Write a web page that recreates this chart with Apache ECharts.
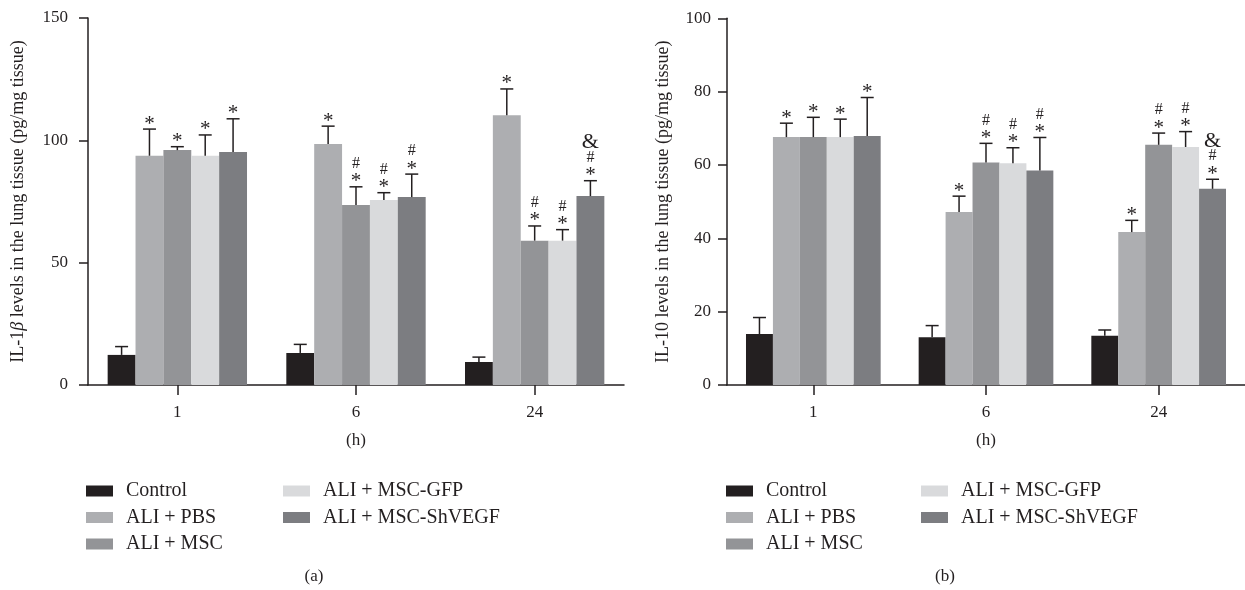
<!DOCTYPE html>
<html>
<head>
<meta charset="utf-8">
<script src="https://cdn.jsdelivr.net/npm/echarts@6/dist/echarts.min.js"></script>
<style>
html,body{margin:0;padding:0;background:#fff;}
#chart{width:1245px;height:590px;}
</style>
</head>
<body>
<div id="chart"></div>
<script>
// ---------- data ----------
const categories = ['1', '6', '24'];
const seriesNames = ['Control', 'ALI + PBS', 'ALI + MSC', 'ALI + MSC-GFP', 'ALI + MSC-ShVEGF'];
const colors = ['#231f20', '#adaeb1', '#939497', '#d9dadc', '#7c7d81'];

// IL-1beta (panel a): mean and mean+SD per group, per time point
const il1bMean = [
  [12.3, 13.1, 9.4],
  [93.7, 98.5, 110.3],
  [96.0, 73.6, 59.0],
  [93.7, 75.6, 59.0],
  [95.2, 76.8, 77.2]
];
const il1bUpper = [
  [15.7, 16.6, 11.4],
  [104.6, 105.8, 121.0],
  [97.4, 81.0, 65.0],
  [102.2, 78.6, 63.5],
  [108.8, 86.2, 83.5]
];
// significance marks, listed bottom to top
const il1bMarks = [
  ['', '', ''],
  ['*', '*', '*'],
  ['*', '*#', '*#'],
  ['*', '*#', '*#'],
  ['*', '*#', '*#&']
];

// IL-10 (panel b)
const il10Mean = [
  [13.9, 13.0, 13.4],
  [67.6, 47.2, 41.7],
  [67.6, 60.7, 65.5],
  [67.6, 60.5, 64.9],
  [67.9, 58.5, 53.5]
];
const il10Upper = [
  [18.4, 16.2, 15.0],
  [71.4, 51.5, 44.9],
  [73.0, 65.9, 68.7],
  [72.5, 64.7, 69.1],
  [78.4, 67.5, 56.1]
];
const il10Marks = [
  ['', '', ''],
  ['*', '*', '*'],
  ['*', '*#', '*#'],
  ['*', '*#', '*#'],
  ['*', '*#', '*#&']
];

const yTicksA = {min: 0, max: 150, interval: 50};
const yTicksB = {min: 0, max: 100, interval: 20};

// ---------- styling ----------
const FONT = 'Liberation Serif';
const INK = '#231f20';
const CAT_GAP = 0.22;

const chart = echarts.init(document.getElementById('chart'));

function makeErrSeries(s, means, uppers, marks, axisIdx) {
  return {
    type: 'custom',
    xAxisIndex: axisIdx,
    yAxisIndex: axisIdx,
    z: 5,
    silent: true,
    data: categories.map((c, i) => [i, means[s][i], uppers[s][i]]),
    renderItem: function (params, api) {
      const i = params.dataIndex;
      const base = api.coord([api.value(0), api.value(1)]);
      const up = api.coord([api.value(0), api.value(2)]);
      const band = api.size([1, 0])[0];
      const bw = band * (1 - CAT_GAP) / seriesNames.length;
      const x = base[0] + (s - (seriesNames.length - 1) / 2) * bw;
      const half = 6.5;
      const children = [
        {type: 'line', shape: {x1: x, y1: base[1], x2: x, y2: up[1]}, style: {stroke: INK, lineWidth: 1.5}},
        {type: 'line', shape: {x1: x - half, y1: up[1], x2: x + half, y2: up[1]}, style: {stroke: INK, lineWidth: 1.5}}
      ];
      const m = marks[s][i];
      // visual centre offsets above the cap for each stacked symbol
      const offsets = [10, 24, 39];
      for (let j = 0; j < m.length; j++) {
        const ch = m[j];
        let fs = 16, shift = 0;
        if (ch === '*') { fs = 21; shift = 5; }
        if (ch === '#') { fs = 16; shift = 1; }
        if (ch === '&') { fs = 22; shift = 1; }
        children.push({
          type: 'text',
          x: x,
          y: up[1] - offsets[j] + shift,
          style: {text: ch, fontFamily: FONT, fontSize: fs, fill: INK, align: 'center', verticalAlign: 'middle'}
        });
      }
      return {type: 'group', children: children};
    }
  };
}

function makeBarSeries(means, axisIdx) {
  return seriesNames.map((name, s) => ({
    name: name,
    type: 'bar',
    xAxisIndex: axisIdx,
    yAxisIndex: axisIdx,
    barGap: '0%',
    barCategoryGap: (CAT_GAP * 100) + '%',
    itemStyle: {color: colors[s]},
    data: means[s],
    silent: true
  }));
}

const axisLine = {show: true, lineStyle: {color: INK, width: 1.5}};
const labelStyle = {fontFamily: FONT, fontSize: 17, color: INK};

function xAxis(gridIndex) {
  return {
    type: 'category',
    gridIndex: gridIndex,
    data: categories,
    boundaryGap: true,
    axisLine: axisLine,
    axisTick: {show: true, alignWithLabel: true, length: 10, lineStyle: {color: INK, width: 1.5}},
    axisLabel: Object.assign({margin: 19}, labelStyle),
    name: '(h)',
    nameLocation: 'middle',
    nameGap: 47,
    nameTextStyle: {fontFamily: FONT, fontSize: 17, color: INK}
  };
}

function yAxis(gridIndex, ticks, nameParts, gap, labelMargin) {
  return {
    type: 'value',
    gridIndex: gridIndex,
    min: ticks.min, max: ticks.max, interval: ticks.interval,
    axisLine: axisLine,
    axisTick: {show: true, length: 9, lineStyle: {color: INK, width: 1.5}},
    axisLabel: Object.assign({margin: labelMargin}, labelStyle),
    splitLine: {show: false},
    name: nameParts,
    nameLocation: 'middle',
    nameRotate: 90,
    nameGap: gap,
    nameTextStyle: {
      fontFamily: FONT, fontSize: 18, color: INK,
      rich: {
        n: {fontFamily: FONT, fontSize: 18, color: INK},
        i: {fontFamily: FONT, fontSize: 18, color: INK, fontStyle: 'italic'}
      }
    }
  };
}

function legend(left, names) {
  return {
    orient: 'vertical',
    left: left,
    top: 481,
    padding: 0,
    icon: 'rect',
    itemWidth: 27,
    itemHeight: 11,
    itemGap: 6.5,
    selectedMode: false,
    data: names,
    textStyle: {fontFamily: FONT, fontSize: 20, color: INK, lineHeight: 20, padding: [0, 0, 0, 8]}
  };
}

const series = []
  .concat(makeBarSeries(il1bMean, 0))
  .concat(makeBarSeries(il10Mean, 1))
  .concat(seriesNames.map((n, s) => makeErrSeries(s, il1bMean, il1bUpper, il1bMarks, 0)))
  .concat(seriesNames.map((n, s) => makeErrSeries(s, il10Mean, il10Upper, il10Marks, 1)));

const option = {
  animation: false,
  backgroundColor: '#ffffff',
  grid: [
    {left: 88, top: 18, width: 536, height: 367},
    {left: 727, top: 18.3, width: 518, height: 366.7}
  ],
  xAxis: [xAxis(0), xAxis(1)],
  yAxis: [
    yAxis(0, yTicksA, '{n|IL-1}{i|β}{n| levels in the lung tissue (pg/mg tissue)}', 61, 20),
    yAxis(1, yTicksB, '{n|IL-10 levels in the lung tissue (pg/mg tissue)}', 55, 16)
  ],
  legend: [
    legend(86, seriesNames.slice(0, 3)),
    legend(283, seriesNames.slice(3)),
    legend(726, seriesNames.slice(0, 3)),
    legend(921, seriesNames.slice(3))
  ],
  graphic: [
    {type: 'text', x: 314, y: 577, style: {text: '(a)', fontFamily: FONT, fontSize: 17, fill: INK, align: 'center', verticalAlign: 'middle'}},
    {type: 'text', x: 945, y: 577, style: {text: '(b)', fontFamily: FONT, fontSize: 17, fill: INK, align: 'center', verticalAlign: 'middle'}}
  ],
  series: series
};
chart.setOption(option);
</script>
</body>
</html>
